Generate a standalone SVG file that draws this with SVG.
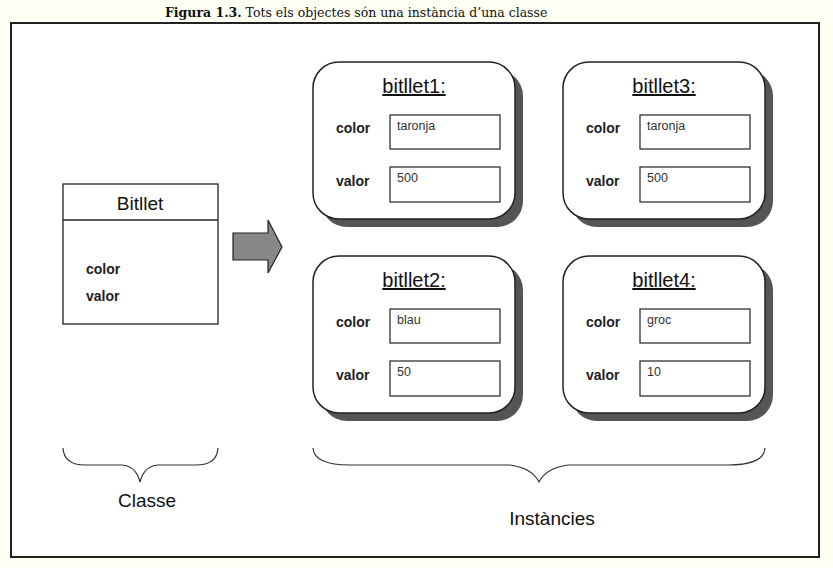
<svg xmlns="http://www.w3.org/2000/svg" width="833" height="568" viewBox="0 0 833 568">
<style>
.sans{font-family:"Liberation Sans",Arial,sans-serif;fill:#111}
.title{font-size:20px;text-anchor:middle;text-decoration:underline}
.lbl{font-size:14px;font-weight:bold;fill:#222}
.val{font-size:12.5px;fill:#333}
.shadow{fill:#555}
.card{fill:#fff;stroke:#222;stroke-width:1.5}
.field{fill:#fff;stroke:#222;stroke-width:1.2}
.brace{fill:none;stroke:#333;stroke-width:1.2}
</style>
<defs>
<g id="cardbase">
<rect class="shadow" x="8" y="8" width="202" height="157" rx="26"/>
<rect class="card" x="0" y="0" width="202" height="157" rx="26"/>
<rect class="field" x="77" y="53" width="110" height="34"/>
<rect class="field" x="77" y="105" width="110" height="35"/>
<text class="sans lbl" x="23" y="71">color</text>
<text class="sans lbl" x="23" y="124">valor</text>
</g>
</defs>
<rect x="0" y="0" width="833" height="568" fill="#fffff4"/>
<rect x="11" y="23" width="808" height="534" fill="#fff" stroke="#222" stroke-width="2"/>
<text x="165" y="17" font-family="'DejaVu Serif','Liberation Serif',serif" font-size="12.5" fill="#111"><tspan font-weight="bold">Figura 1.3.</tspan> Tots els objectes són una instància d’una classe</text>

<g id="class-bitlet">
<rect x="63" y="184" width="155" height="140" fill="#fff" stroke="#222" stroke-width="1.3"/>
<line x1="63" y1="220" x2="218" y2="220" stroke="#222" stroke-width="1.3"/>
<text class="sans" x="140" y="210" font-size="19" text-anchor="middle">Bitllet</text>
<text class="sans lbl" x="86" y="274" font-size="13">color</text>
<text class="sans lbl" x="86" y="301" font-size="13">valor</text>
</g>

<g id="connectors">
<polygon points="233,233 268,233 268,220 282,247 268,273 268,260 233,260" fill="#888" stroke="#222" stroke-width="1.2"/>
</g>

<g id="bitllet1" transform="translate(313,62)">
<use href="#cardbase"/>
<text class="sans title" x="101" y="31">bitllet1:</text>
<text class="sans val" x="84" y="68">taronja</text>
<text class="sans val" x="84" y="120">500</text>
</g>
<g id="bitllet3" transform="translate(563,62)">
<use href="#cardbase"/>
<text class="sans title" x="101" y="31">bitllet3:</text>
<text class="sans val" x="84" y="68">taronja</text>
<text class="sans val" x="84" y="120">500</text>
</g>
<g id="bitllet2" transform="translate(313,256)">
<use href="#cardbase"/>
<text class="sans title" x="101" y="31">bitllet2:</text>
<text class="sans val" x="84" y="68">blau</text>
<text class="sans val" x="84" y="120">50</text>
</g>
<g id="bitllet4" transform="translate(563,256)">
<use href="#cardbase"/>
<text class="sans title" x="101" y="31">bitllet4:</text>
<text class="sans val" x="84" y="68">groc</text>
<text class="sans val" x="84" y="120">10</text>
</g>

<g id="brace-classe">
<path class="brace" d="M63,448 Q64,465 85,465 L122,465 Q136,466 140,482 Q144,466 158,465 L196,465 Q217,465 218,448"/>
<text class="sans" x="147" y="507" font-size="19" text-anchor="middle">Classe</text>
</g>
<g id="brace-instancies">
<path class="brace" d="M313,448 Q314,465 350,465 L510,465 Q532,468 539,482 Q546,468 568,465 L728,465 Q764,465 765,448"/>
<text class="sans" x="552" y="525" font-size="19" text-anchor="middle">Instàncies</text>
</g>
</svg>
